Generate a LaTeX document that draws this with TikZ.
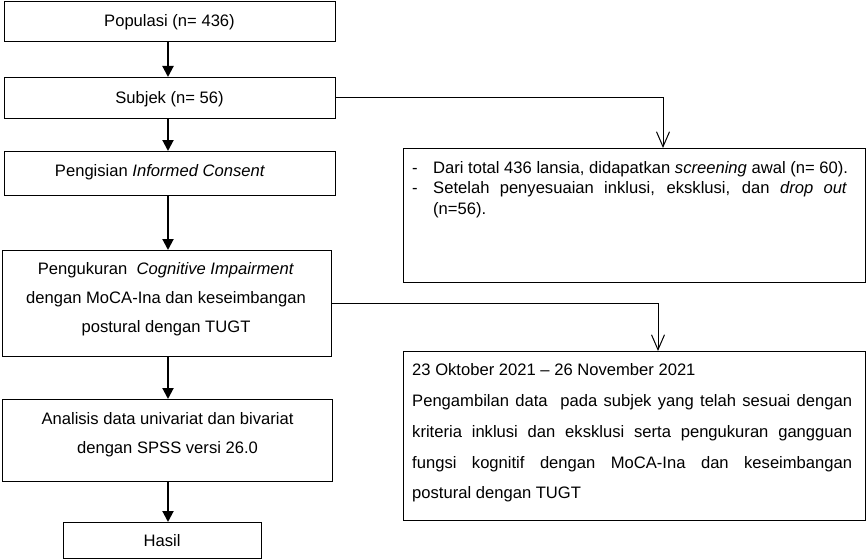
\documentclass[tikz,border=0pt]{standalone}
\usepackage{fontspec}
\setmainfont{Liberation Sans}
\usetikzlibrary{arrows.meta}
\begin{document}
\begin{tikzpicture}[x=1pt,y=-1pt, font=\fontsize{16.6}{20}\selectfont,
  box/.style={draw, line width=1pt, inner sep=0pt, anchor=north west},
  flow/.style={line width=2pt, -{Triangle[width=11pt,length=11pt]}},
  side/.style={line width=1pt, -{Straight Barb[width=13pt,length=15pt,line width=1pt]}},
  txt/.style={inner sep=0pt, anchor=mid, yshift=-3.5pt},
  ltxt/.style={inner sep=0pt, anchor=mid west, yshift=-3.5pt}]
\useasboundingbox (0,0) rectangle (866,559);
% left column boxes
\node[box, minimum width=331pt, minimum height=40pt] (b1) at (4,1) {};
\node[box, minimum width=331pt, minimum height=41pt] (b2) at (4,77) {};
\node[box, minimum width=331pt, minimum height=44pt] (b3) at (4,151) {};
\node[box, minimum width=329pt, minimum height=106pt] (b4) at (2,250) {};
\node[box, minimum width=330pt, minimum height=82pt] (b5) at (2,399) {};
\node[box, minimum width=198pt, minimum height=36pt] (b6) at (63,522) {};
% right boxes
\node[box, minimum width=462pt, minimum height=134pt] (r1) at (403,148) {};
\node[box, minimum width=462pt, minimum height=169pt] (r2) at (403,351) {};
% texts left
\node[txt] (t1) at (169.5,20) {Populasi (n= 436)};
\node[txt] (t2) at (169.5,97) {Subjek (n= 56)};
\node[txt] (t3) at (160,170) {Pengisian \textit{Informed Consent}};
\node[txt] (t4a) at (166,268) {Pengukuran\ \ \textit{Cognitive Impairment}};
\node[txt] (t4b) at (166,297) {dengan MoCA-Ina dan keseimbangan};
\node[txt] (t4c) at (166,326) {postural dengan TUGT};
\node[txt] (t5a) at (167.5,418) {Analisis data univariat dan bivariat};
\node[txt] (t5b) at (167.5,447) {dengan SPSS versi 26.0};
\node[txt] (t6) at (162,540) {Hasil};
% texts right 1
\node[ltxt] (d1) at (412,167) {-};
\node[ltxt] (d2) at (412,187) {-};
\node[ltxt] (s1) at (433,167) {Dari total 436 lansia, didapatkan \textit{screening} awal (n= 60).};
\node[ltxt] (s2) at (433,187) {\makebox[414pt][s]{Setelah penyesuaian inklusi, eksklusi, dan \textit{drop out}}};
\node[ltxt] (s3) at (433,208) {(n=56).};
% texts right 2
\node[ltxt] (p1) at (412,369) {23 Oktober 2021 – 26 November 2021};
\node[ltxt] (p2) at (412,400) {\makebox[440pt][s]{Pengambilan data\ \ pada subjek yang telah sesuai dengan}};
\node[ltxt] (p3) at (412,431) {\makebox[440pt][s]{kriteria inklusi dan eksklusi serta pengukuran gangguan}};
\node[ltxt] (p4) at (412,462) {\makebox[440pt][s]{fungsi kognitif dengan MoCA-Ina dan keseimbangan}};
\node[ltxt] (p5) at (412,492) {postural dengan TUGT};
% connectors
\coordinate (ax) at (168,0);
\draw[flow] (b1.south -| ax) -- (b2.north -| ax);
\draw[flow] (b2.south -| ax) -- (b3.north -| ax);
\draw[flow] (b3.south -| ax) -- (b4.north -| ax);
\draw[flow] (b4.south -| ax) -- (b5.north -| ax);
\draw[flow] (b5.south -| ax) -- (b6.north -| ax);
\coordinate (c1) at (663,0);
\coordinate (c2) at (658,0);
\draw[side] (b2.east) -| (r1.north -| c1);
\draw[side] (b4.east) -| (r2.north -| c2);
\end{tikzpicture}
\end{document}
